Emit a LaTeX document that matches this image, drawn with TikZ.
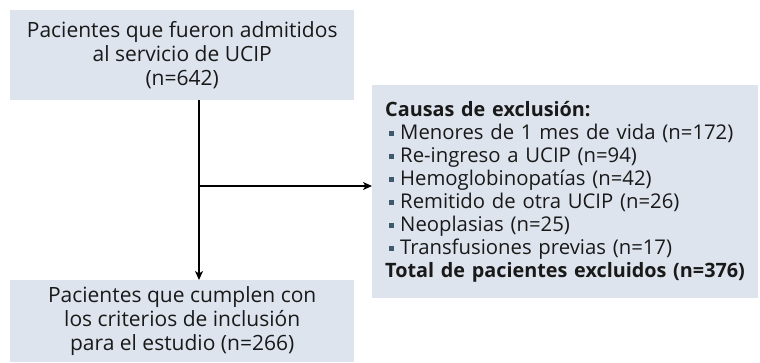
\documentclass[tikz,border=0pt]{standalone}
\usepackage{fontspec}
\setmainfont{Open Sans}
\usetikzlibrary{arrows.meta}
\definecolor{boxfill}{RGB}{222,228,238}
\definecolor{txt}{RGB}{25,25,25}
\definecolor{bulc}{RGB}{60,90,110}
\newcommand\bul{\hspace*{4pt}\textcolor{bulc}{\rule[3.5pt]{5pt}{5pt}}\hspace{6pt}}
\begin{document}
\begin{tikzpicture}[x=1pt,y=-1pt,
  box/.style={fill=boxfill, draw=none, text=txt, font=\fontsize{21}{24}\selectfont, inner sep=0pt},
  conn/.style={line width=1.3pt, -{Stealth[length=9pt,width=8pt,inset=2.5pt]}}]
\useasboundingbox (0,0) rectangle (760,363);
\node[box, anchor=north west, minimum width=344pt, minimum height=90pt, align=center] (top) at (10,10)
  {Pacientes que fueron admitidos\\al servicio de UCIP\\(n=642)};
\node[box, anchor=north west, minimum width=344pt, minimum height=82pt, align=center] (bot) at (10,280)
  {Pacientes que cumplen con\\los criterios de inclusión\\para el estudio (n=266)};
\node[box, anchor=north west, minimum height=213pt, text width=360pt, inner xsep=13pt, align=left,
  font=\fontsize{20.3}{23}\selectfont] (excl) at (372,85)
  {{\fontsize{19.8}{23}\selectfont\bfseries Causas de exclusión:}\\
   \bul Menores de 1 mes de vida (n=172)\\
   \bul Re-ingreso a UCIP (n=94)\\
   \bul Hemoglobinopatías (n=42)\\
   \bul Remitido de otra UCIP (n=26)\\
   \bul Neoplasias (n=25)\\
   \bul Transfusiones previas (n=17)\\
   {\fontsize{19.8}{23}\selectfont\bfseries Total de pacientes excluidos (n=376)}};
\coordinate (v) at (199,186);
\draw[conn] (top.south -| v) -- (bot.north -| v);
\draw[conn] (v) -- (excl.west |- v);
\end{tikzpicture}
\end{document}
